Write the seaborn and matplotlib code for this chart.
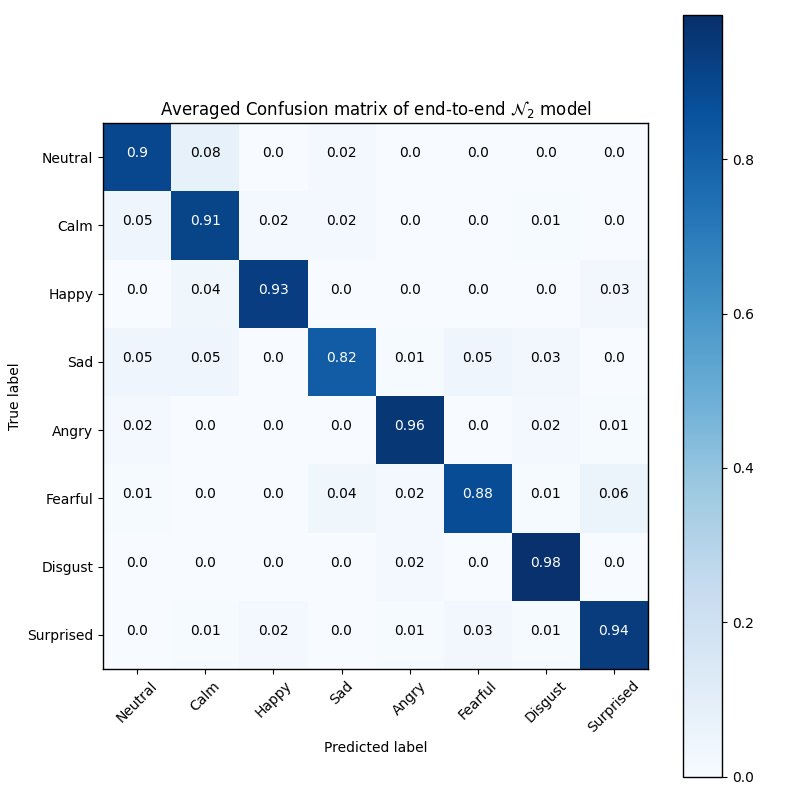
import numpy as np
import matplotlib
matplotlib.use("Agg")
import matplotlib.pyplot as plt
import seaborn as sns

classes = ["Neutral", "Calm", "Happy", "Sad", "Angry", "Fearful", "Disgust", "Surprised"]
row_neutral = [0.9, 0.08, 0.0, 0.02, 0.0, 0.0, 0.0, 0.0]
row_calm = [0.05, 0.91, 0.02, 0.02, 0.0, 0.0, 0.01, 0.0]
row_happy = [0.0, 0.04, 0.93, 0.0, 0.0, 0.0, 0.0, 0.03]
row_sad = [0.05, 0.05, 0.0, 0.82, 0.01, 0.05, 0.03, 0.0]
row_angry = [0.02, 0.0, 0.0, 0.0, 0.96, 0.0, 0.02, 0.01]
row_fearful = [0.01, 0.0, 0.0, 0.04, 0.02, 0.88, 0.01, 0.06]
row_disgust = [0.0, 0.0, 0.0, 0.0, 0.02, 0.0, 0.98, 0.0]
row_surprised = [0.0, 0.01, 0.02, 0.0, 0.01, 0.03, 0.01, 0.94]
color_max = 0.987  # unrounded maximum, estimated from the colorbar
cbar_ticks = [0.0, 0.2, 0.4, 0.6, 0.8]

cm = np.array([row_neutral, row_calm, row_happy, row_sad,
               row_angry, row_fearful, row_disgust, row_surprised])
labels = np.array([[str(v) for v in r] for r in cm])

fig = plt.figure(figsize=(8, 8), dpi=100)
ax = fig.add_axes([0.129, 0.16375, 0.681, 0.6825])
cax = fig.add_axes([0.854, 0.029, 0.049, 0.9525])

sns.heatmap(cm, ax=ax, cbar_ax=cax, cmap="Blues", vmin=0, vmax=color_max,
            annot=labels, fmt="", annot_kws={"fontsize": 10, "va": "baseline"},
            xticklabels=classes, yticklabels=classes, square=False)

thresh = color_max / 2.0
for t in ax.texts:
    try:
        v = float(t.get_text())
    except ValueError:
        continue
    t.set_color("white" if v > thresh else "black")
    t.set_va("baseline")

for s in ax.spines.values():
    s.set_visible(True)
    s.set_linewidth(1.0)
    s.set_color("black")
ax.tick_params(axis="both", length=3.5, width=0.8, labelsize=10)
plt.setp(ax.get_xticklabels(), rotation=45, ha="center")
plt.setp(ax.get_yticklabels(), rotation=0, va="center_baseline")
ax.set_title(r"Averaged Confusion matrix of end-to-end $\mathcal{N}_2$ model", fontsize=12)
ax.set_xlabel("Predicted label", fontsize=10)
ax.set_ylabel("True label", fontsize=10)

cb = ax.collections[0].colorbar
cb.outline.set_visible(True)
cb.outline.set_linewidth(1.0)
cb.outline.set_edgecolor("black")
cb.set_ticks(cbar_ticks)
cb.ax.tick_params(labelsize=10, length=3.5, width=0.8)

fig.savefig("out.png", dpi=100)
